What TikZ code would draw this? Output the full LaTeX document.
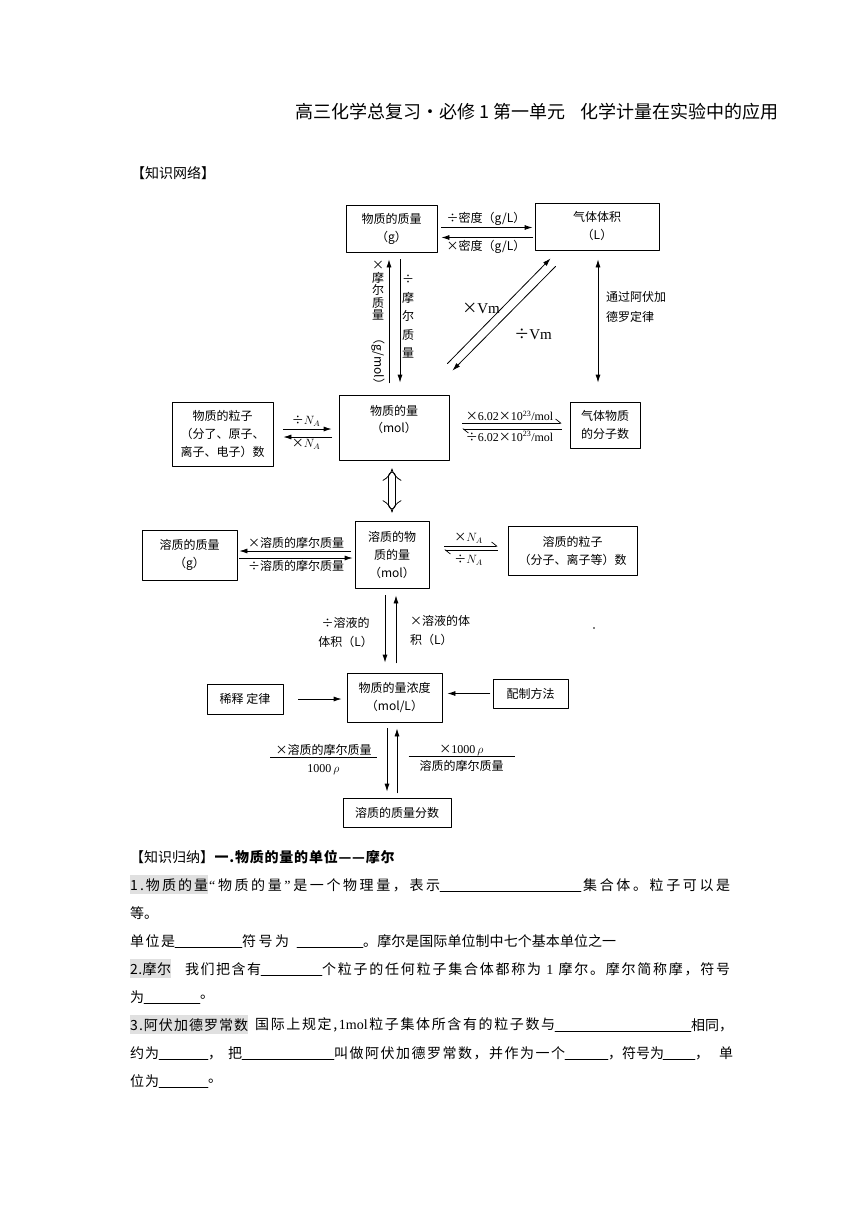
\documentclass[tikz,border=0pt]{standalone}
\usepackage{fontspec}
\usepackage{graphicx}
\setmainfont{Noto Sans CJK SC}
\newfontfamily\tnr{Liberation Serif}
\usetikzlibrary{arrows.meta,calc}
\makeatletter
\newcommand\spreadto[2]{\hbox to #2pt{\@tfor\spch:=#1\do{{\spch}\hfil}\unskip}}
\makeatother
\begin{document}
\begin{tikzpicture}[x=1pt,y=-1pt,line join=round,line cap=round,>={Latex[length=8pt,width=5pt]},
	box/.style={draw,line width=0.8pt,align=center,inner sep=2pt,font=\fontsize{12}{18}\selectfont},
	lab/.style={inner sep=2pt,font=\fontsize{12}{14}\selectfont},
	arr/.style={line width=0.8pt,->},
	harp/.style={line width=0.7pt,-{Straight Barb[harpoon,length=5pt,width=8pt]}},
	hollow/.style={double,double distance=6pt,line width=0.8pt,{Implies}-{Implies}},
	seg/.style={anchor=west,inner sep=0pt,font=\fontsize{14}{16}\selectfont},
	head/.style={anchor=west,inner sep=0pt,font=\fontsize{18}{20}\selectfont},
	blank/.style={line width=0.6pt},
	hl/.style={fill=black!12}]
	\useasboundingbox (0,0) rectangle (860,1216);
	% heading
	\node[head] (title1) at (295,112) {高三化学总复习·必修 1 第一单元};
	\node[head,anchor=east] (title2) at (779,112) {化学计量在实验中的应用};
	\node[seg] (net) at (131,173) {【知识网络】};
	% boxes
	\node[box,minimum width=91pt,minimum height=47pt] (mass) at (391.5,228.5) {物质的质量\\（g）};
	\node[box,minimum width=124pt,minimum height=47pt] (gasvol) at (597,226.5) {气体体积\\（L）};
	\node[box,minimum width=101pt,minimum height=64pt] (part) at (222.5,434) {物质的粒子\\（分了、原子、\\离子、电子）数};
	\node[box,minimum width=110pt,minimum height=65pt] (mole) at (394,427.5) {};
	\node[lab,align=center,font=\fontsize{12}{17}\selectfont] (moletxt) at (394,420) {物质的量\\（mol）};
	\node[box,minimum width=70pt,minimum height=46pt] (gasmol) at (605,425) {气体物质\\的分子数};
	\node[box,minimum width=95pt,minimum height=50pt] (solmass) at (189.5,555) {溶质的质量\\（g）};
	\node[box,minimum width=74pt,minimum height=67pt] (solmole) at (392,554.5) {溶质的物\\质的量\\（mol）};
	\node[box,minimum width=129pt,minimum height=49pt] (solpart) at (572.5,550.5) {溶质的粒子\\（分子、离子等）数};
	\node[box,minimum width=95pt,minimum height=49pt] (conc) at (394.5,697.5) {物质的量浓度\\（mol/L）};
	\node[box,minimum width=76pt,minimum height=30pt] (dilute) at (245,699) {稀释 定律};
	\node[box,minimum width=75pt,minimum height=29pt] (prep) at (530.5,693.5) {配制方法};
	\node[box,minimum width=108pt,minimum height=29pt] (frac) at (397,812.5) {溶质的质量分数};
	% mass <-> gas volume
	\draw[arr,shorten <=4pt,shorten >=2pt] ([yshift=1pt]mass.east) -- ([yshift=1pt]mass.east -| gasvol.west)
		node[lab,midway,above] (ldivrho) {÷密度（g/L）};
	\draw[arr,shorten <=2pt,shorten >=4pt] ([yshift=-9pt]mass.east -| gasvol.west) -- ([yshift=-9pt]mass.east)
		node[lab,midway,below] (lmulrho) {×密度（g/L）};
	% mass <-> mole
	\draw[arr,shorten <=12pt,shorten >=7pt] ([xshift=-5pt]mole.north) -- ([xshift=-5pt]mole.north |- mass.south);
	\draw[arr,shorten <=7pt,shorten >=12pt] ([xshift=6pt]mole.north |- mass.south) -- ([xshift=6pt]mole.north);
	\node[lab,align=center,font=\fontsize{12}{12.5}\selectfont] (lmolar) at (378,326) {×\\摩\\尔\\质\\量\\\rotatebox{-90}{（g/mol）}};
	\node[lab,align=center,font=\fontsize{12}{18.5}\selectfont] (ldivmolar) at (408,317) {÷\\摩\\尔\\质\\量};
	% mole <-> gas volume
	\draw[arr] ($(mole.north east)+(-2,-31)$) -- ($(gasvol.south west)+(16,8)$);
	\draw[arr] ($(gasvol.south west)+(21,16)$) -- ($(mole.north east)+(3,-24)$);
	\node[lab,font=\fontsize{15}{15}\selectfont] (lmulvm) at (481,308) {×{\tnr Vm}};
	\node[lab,font=\fontsize{15}{15}\selectfont] (ldivvm) at (533,334) {÷{\tnr Vm}};
	\draw[<->,line width=0.8pt,shorten <=9pt,shorten >=19pt] ([xshift=1pt]gasvol.south) -- ([xshift=1pt]gasvol.south |- gasmol.north);
	\node[lab,anchor=west,align=left,font=\fontsize{12}{20}\selectfont] (lavog) at (604,307) {通过阿伏加\\德罗定律};
	% particles <-> mole
	\draw[arr,shorten <=10pt,shorten >=7pt] ([yshift=5pt]part.east) -- ([yshift=5pt]part.east -| mole.west)
		node[lab,midway,above] (ldivna) {÷$N_A$};
	\draw[arr,shorten <=7pt,shorten >=10pt] ([yshift=-3pt]part.east -| mole.west) -- ([yshift=-3pt]part.east)
		node[lab,midway,below] (lmulna) {×$N_A$};
	% mole <-> gas molecules
	\draw[harp,shorten <=13pt,shorten >=8pt] ([yshift=4.5pt]mole.east) -- ([yshift=4.5pt]mole.east -| gasmol.west)
		node[lab,midway,above,font=\tnr\fontsize{12}{12}\selectfont] (lmulav) {{\rmfamily ×}6.02{\rmfamily ×}10\textsuperscript{23}/mol};
	\draw[harp,shorten <=8pt,shorten >=13pt] ([yshift=-1.5pt]mole.east -| gasmol.west) -- ([yshift=-1.5pt]mole.east)
		node[lab,midway,below,font=\tnr\fontsize{12}{12}\selectfont] (ldivav) {{\rmfamily ÷}6.02{\rmfamily ×}10\textsuperscript{23}/mol};
	\draw[hollow,shorten <=8pt,shorten >=8pt] ([xshift=-2pt]mole.south) -- (solmole.north);
	% solute mass <-> solute mole
	\draw[arr,shorten <=4pt,shorten >=2pt] ([yshift=3.5pt]solmole.west) -- ([yshift=3.5pt]solmole.west -| solmass.east)
		node[lab,midway,above] (lmulm) {×溶质的摩尔质量};
	\draw[arr,shorten <=2pt,shorten >=2pt] ([yshift=-3.5pt]solmole.west -| solmass.east) -- ([yshift=-3.5pt]solmole.west)
		node[lab,midway,below] (ldivm) {÷溶质的摩尔质量};
	\draw[harp,shorten <=15pt,shorten >=10pt] ([yshift=8.5pt]solmole.east) -- ([yshift=8.5pt]solmole.east -| solpart.west)
		node[lab,midway,above] (lmulna2) {×$N_A$};
	\draw[harp,shorten <=10pt,shorten >=15pt] ([yshift=4.5pt]solmole.east -| solpart.west) -- ([yshift=4.5pt]solmole.east)
		node[lab,midway,below=3pt] (ldivna2) {÷$N_A$};
	% solute mole <-> concentration
	\draw[arr,shorten <=7pt,shorten >=10pt] ([xshift=-7pt]solmole.south) -- ([xshift=-7pt]solmole.south |- conc.north);
	\draw[arr,shorten <=10pt,shorten >=7pt] ([xshift=4pt]solmole.south |- conc.north) -- ([xshift=4pt]solmole.south);
	\node[lab,anchor=east,align=center,font=\fontsize{12}{19}\selectfont] (ldivvol) at (375,632) {÷溶液的\\体积（L）};
	\node[lab,anchor=west,align=left,font=\fontsize{12}{19}\selectfont] (lmulvol) at (408,630) {×溶液的体\\积（L）};
	\fill (594,628) circle (0.8);
	% concentration
	\draw[arr,shorten <=15pt,shorten >=5pt] (dilute.east) -- (dilute.east -| conc.west);
	\draw[arr,shorten <=3pt,shorten >=5pt] (prep.west) -- (prep.west -| conc.east);
	\draw[arr,shorten <=6pt,shorten >=6pt] ([xshift=-7.5pt]conc.south) -- ([xshift=-7.5pt]conc.south |- frac.north);
	\draw[arr,shorten <=5pt,shorten >=6pt] ([xshift=2.5pt]conc.south |- frac.north) -- ([xshift=2.5pt]conc.south);
	\node[lab,inner sep=0pt] (lfrac1) at (323.5,760) {\setlength\tabcolsep{5.5pt}\setlength\arrayrulewidth{0.8pt}\renewcommand\arraystretch{0.7}%
		\begin{tabular}{c}×溶质的摩尔质量\\\hline\rule{0pt}{15pt}{\tnr 1000}\,$\rho$\end{tabular}};
	\node[lab,inner sep=0pt] (lfrac2) at (461.5,759) {\setlength\tabcolsep{11pt}\setlength\arrayrulewidth{0.8pt}\renewcommand\arraystretch{0.7}%
		\begin{tabular}{c}×{\tnr 1000}\,$\rho$\\\hline\rule{0pt}{13pt}溶质的摩尔质量\end{tabular}};
	% summary text
	\foreach \ha/\hb/\hy in {130/208/885, 130/171/969, 130/248/1025}
		\fill[hl] (\ha,\hy-10) rectangle (\hb,\hy+9);
	\node[seg] (sumtag) at (130,857) {【知识归纳】};
	\node[seg,font=\bfseries\fontsize{14}{16}\selectfont] (sumhead) at (sumtag.east) {\spreadto{一.物质的量的单位——摩尔}{180}};
	\foreach \sx/\sy/\sw/\st [count=\k] in {
		130/885/78/{1.物质的量},
		209/885/231/{{\tnr “}物质的量{\tnr ”}是一个物理量，表示},
		583/885/147/{集合体。粒子可以是},
		130/913/28/{等。},
		130/941/45/{单位是},
		242/941/47/{符号为},
		363/941/253/{。摩尔是国际单位制中七个基本单位之一},
		130/969/41/{2.摩尔},
		185/969/76/{我们把含有},
		322/969/408/{个粒子的任何粒子集合体都称为{\tnr\ 1\ }摩尔。摩尔简称摩，符号},
		130/997/14/{为},
		200/997/14/{。},
		130/1025/118/{3.阿伏加德罗常数},
		255/1025/300/{国际上规定,{\tnr 1mol}粒子集体所含有的粒子数与},
		691/1025/42/{相同，},
		130/1053/29/{约为},
		208/1053/34/{，把},
		334/1053/231/{叫做阿伏加德罗常数，并作为一个},
		608/1053/56/{，符号为},
		695/1053/38/{，单},
		130/1081/29/{位为},
		208/1081/14/{。}}
		\node[seg] (seg\k) at (\sx,\sy) {\expandafter\spreadto\expandafter{\st}{\sw}};
	\foreach \ua/\ub/\uy in {440/581/885, 175/242/941, 297/363/941, 261/322/969, 144/200/997,
		555/691/1025, 159/208/1053, 242/334/1053, 565/608/1053, 663/695/1053, 159/208/1081}
		\draw[blank] (\ua,\uy+6) -- (\ub,\uy+6);
\end{tikzpicture}
\end{document}
